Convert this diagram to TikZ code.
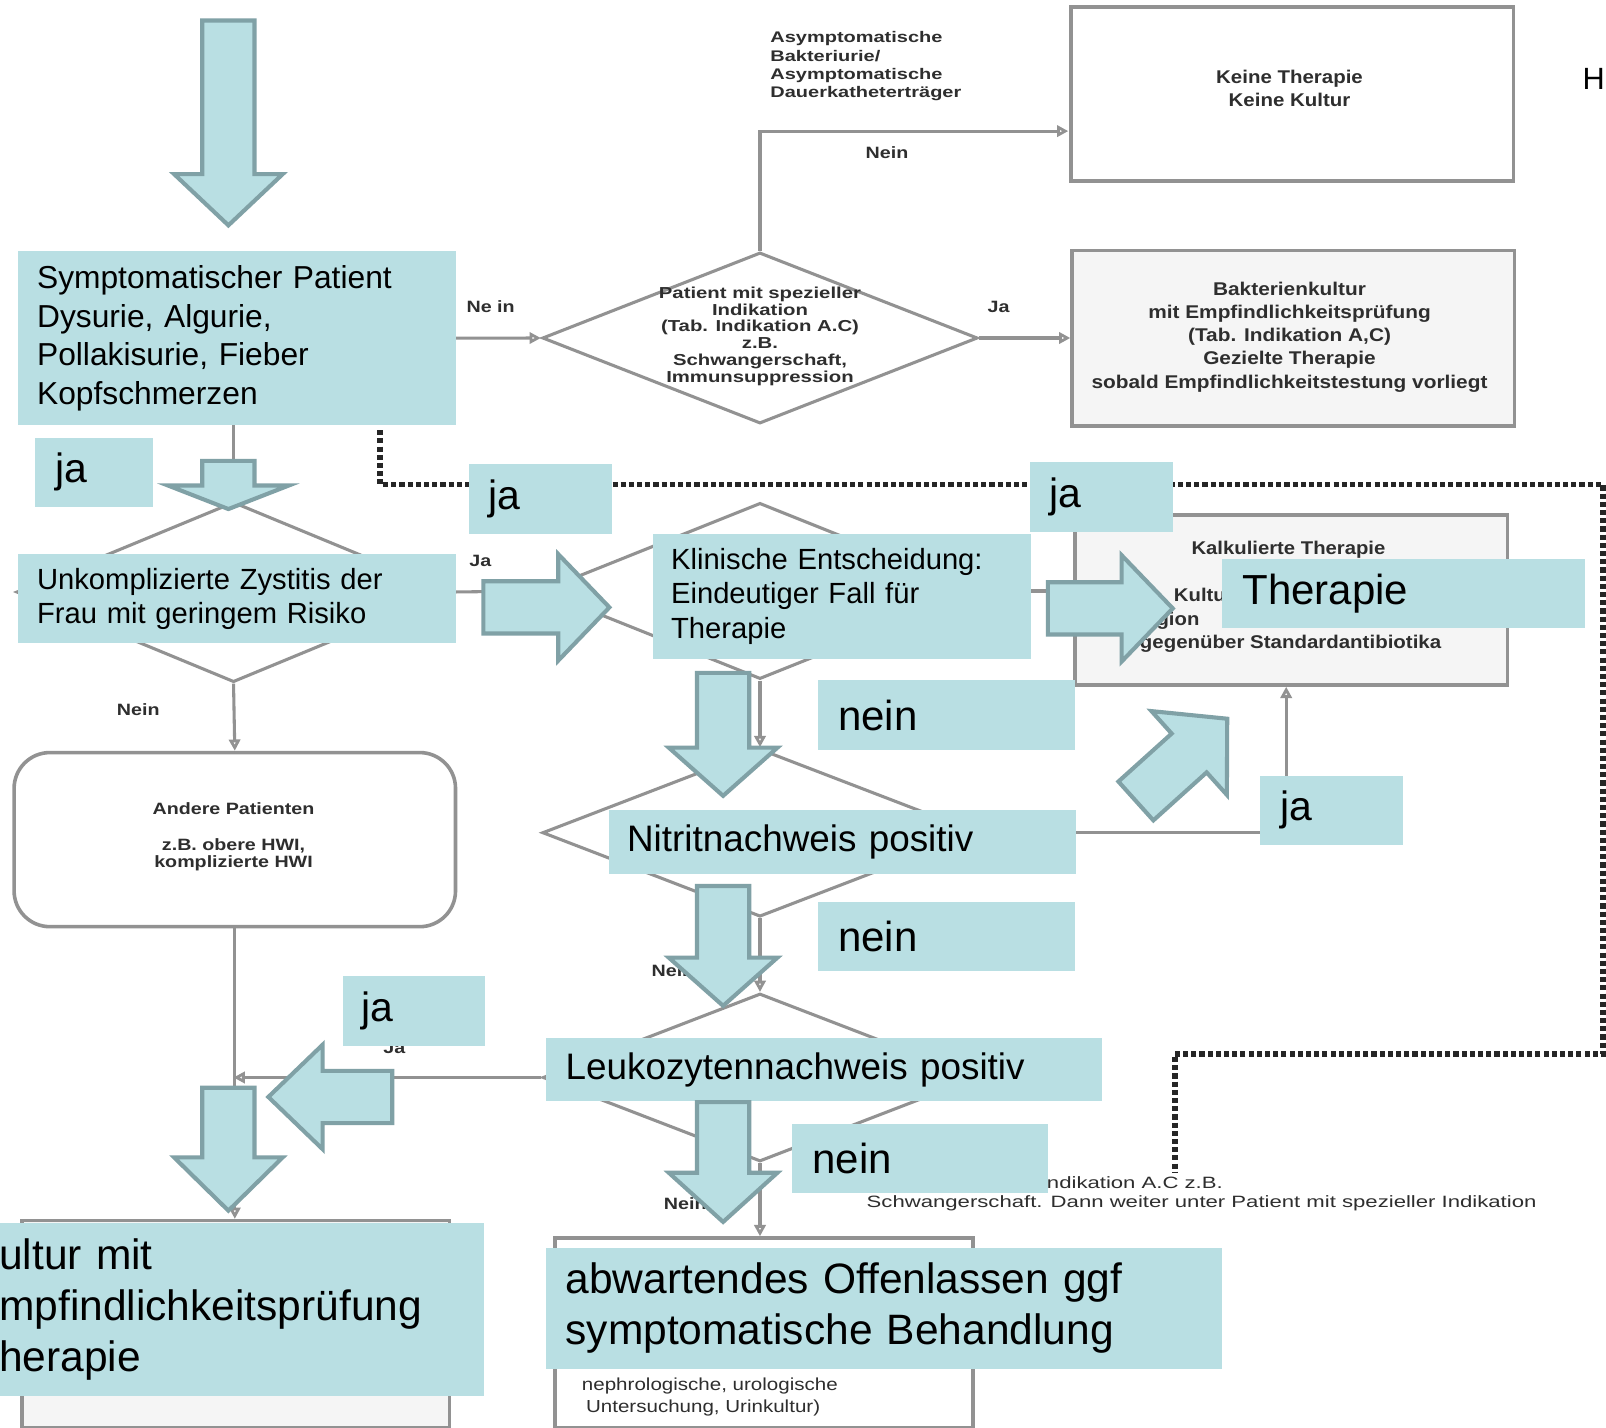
\documentclass[tikz,border=0pt]{standalone}
\usepackage{fontspec}
\setmainfont{Liberation Sans}
\usepackage{graphicx}
\usetikzlibrary{arrows.meta,shapes.geometric,calc}
\pgfdeclarelayer{fg}
\pgfsetlayers{main,fg}
\definecolor{blueF}{HTML}{B9DFE3}
\definecolor{arrS}{HTML}{80A1A6}
\definecolor{glc}{HTML}{929292}
\definecolor{gtc}{HTML}{2E2E2E}
\newcommand\grtext[5]{{\fontsize{#1}{#2}\selectfont\scalebox{#3}[1]{\begin{tabular}{@{}#4@{}}#5\end{tabular}}}}
\newcommand\downarr[5]{\draw[bigarrow] (#1-25.5,#2) -- (#1+25.5,#2) -- (#1+25.5,#3) -- (#1+#5,#3) -- (#1,#4) -- (#1-#5,#3) -- (#1-25.5,#3) -- cycle;}
\newcommand\harr[5]{\draw[bigarrow] (#1,#2-25.5) -- (#3,#2-25.5) -- (#3,#2-#5) -- (#4,#2) -- (#3,#2+#5) -- (#3,#2+25.5) -- (#1,#2+25.5) -- cycle;}
\begin{document}
\begin{tikzpicture}[x=1pt,y=-1pt,
  bluebox/.style={fill=blueF, draw=none, anchor=north west, inner ysep=0pt, align=left, text=black},
  bigarrow/.style={fill=blueF, draw=arrS, line width=4pt, line join=miter},
  gbox/.style={draw=glc, line width=3.5pt, fill=white, anchor=north west, inner sep=0pt},
  gdia/.style={draw=glc, line width=3pt, fill=white, diamond, inner sep=0pt},
  gtext/.style={text=gtc, font=\bfseries, inner sep=0pt},
  gnote/.style={text=gtc, inner sep=0pt},
  garrow/.style={draw=glc, line width=3pt, -{Triangle[open,length=11pt,width=11pt]}},
  dotline/.style={draw=black!85, line width=5.5pt, dash pattern=on 5pt off 3pt}
]
\useasboundingbox (0,0) rectangle (1568,1394);
\fill[white] (0,0) rectangle (1568,1394);

% ---------- grey boxes ----------
\node[gbox, minimum width=432pt, minimum height=170pt] (bKeine) at (1044,5) {};
\node[gbox, fill=gray!8, minimum width=432pt, minimum height=171pt] (bBakt) at (1045,243) {};
\node[gbox, fill=gray!8, minimum width=422pt, minimum height=166pt] (bKalk) at (1048,501) {};
\node[gbox, rounded corners=35pt, minimum width=431pt, minimum height=170pt] (bAndere) at (12,733) {};
\node[gbox, fill=gray!8, minimum width=417pt, minimum height=202pt] (bKult) at (20,1190) {};
\node[gbox, minimum width=408pt, minimum height=185pt] (bAbw) at (540,1207) {};

% ---------- grey diamonds ----------
\node[gdia, minimum width=425pt, minimum height=167pt] (dPat) at (742,330) {};
\node[gdia, minimum width=424pt, minimum height=176pt] (dUnk) at (228,578) {};
\node[gdia, minimum width=428pt, minimum height=172pt] (dKlin) at (742,577) {};
\node[gdia, minimum width=425pt, minimum height=164pt] (dNit) at (742,813) {};
\node[gdia, minimum width=424pt, minimum height=164pt] (dLeu) at (742,1052) {};

% ---------- grey texts ----------
\node[gtext, anchor=west] (tAsym) at (752,65) {\grtext{15}{18}{1.3}{l}{Asymptomatische\\Bakteriurie/\\Asymptomatische\\Dauerkatheterträger}};
\node[gtext] (tKeine) at (1259,88) {\grtext{18}{23}{1.11}{c}{Keine Therapie\\Keine Kultur}};
\node[gtext] (tPat) at (742,329) {\grtext{15.5}{16.4}{1.28}{c}{Patient mit spezieller\\Indikation\\(Tab. Indikation  A.C)\\z.B.\\Schwangerschaft,\\Immunsuppression}};
\node[gtext] (tBakt) at (1259,329) {\grtext{18}{22.75}{1.13}{c}{Bakterienkultur\\mit Empfindlichkeitsprüfung\\(Tab. Indikation A,C)\\Gezielte Therapie\\sobald Empfindlichkeitstestung vorliegt}};
\node[gtext] (tKalk1) at (1258,537) {\grtext{18}{22}{1.1}{c}{Kalkulierte Therapie}};
\node[gtext, anchor=west] (tKalk2) at (1146,583) {\grtext{18}{22}{1.1}{l}{Kultu}};
\node[gtext, anchor=west] (tKalk3) at (1118,606) {\grtext{18}{22}{1.1}{l}{egion}};
\node[gtext] (tKalk4) at (1260,629) {\grtext{18}{22}{1.11}{c}{gegenüber Standardantibiotika}};
\node[gtext] (tAnd1) at (228,792) {\grtext{16}{17}{1.2}{c}{Andere Patienten}};
\node[gtext] (tAnd2) at (228,835) {\grtext{16}{17}{1.2}{c}{z.B. obere HWI,\\komplizierte HWI}};
\node[gtext] (lNe) at (479,302) {\grtext{16}{17}{1.2}{c}{Ne in}};
\node[gtext] (lJa1) at (975,302) {\grtext{16}{17}{1.2}{c}{Ja}};
\node[gtext] (lNein1) at (866,151) {\grtext{16}{17}{1.2}{c}{Nein}};
\node[gtext] (lJa2) at (469,550) {\grtext{16}{17}{1.2}{c}{Ja}};
\node[gtext] (lNein2) at (135,695) {\grtext{16}{17}{1.2}{c}{Nein}};
\node[gtext, anchor=west] (lNein3) at (636,950) {\grtext{16}{17}{1.2}{l}{Nein}};
\node[gtext] (lJa3) at (385,1025) {\grtext{16}{17}{1.2}{c}{Ja}};
\node[gtext, anchor=west] (lNein4) at (648,1177) {\grtext{16}{17}{1.2}{l}{Nein}};
\node[gnote, anchor=west] (tNote1) at (1022,1157) {\grtext{16}{18}{1.35}{l}{ndikation A.C z.B.}};
\node[gnote, anchor=west] (tNote2) at (846,1175) {\grtext{16}{18}{1.35}{l}{Schwangerschaft. Dann weiter unter Patient mit  spezieller Indikation}};
\node[gnote, anchor=west] (tAbw1) at (568,1353) {\grtext{17}{22}{1.18}{l}{nephrologische, urologische}};
\node[gnote, anchor=west] (tAbw2) at (572,1375) {\grtext{17}{22}{1.18}{l}{Untersuchung, Urinkultur)}};
\node[anchor=west, inner sep=0pt, font=\fontsize{30}{34}\selectfont] (tH) at (1545,77) {H};

% ---------- dotted line ----------
\draw[dotline] (371,420) -- (371,473) -- (1565,473) -- (1565,1029) -- (1147,1029) -- (1147,1145);

% ---------- blue overlay boxes ----------
\begin{pgfonlayer}{fg}
\node[bluebox, text width=390pt, inner xsep=19pt, minimum height=170pt, font=\fontsize{31}{37.5}\selectfont] (sym) at (17,245) {Symptomatischer Patient\\Dysurie, Algurie,\\Pollakisurie, Fieber\\Kopfschmerzen};
\node[bluebox, text width=75pt, inner xsep=20pt, minimum height=68pt, font=\fontsize{40}{46}\selectfont] (ja1) at (34,427) {ja};
\node[bluebox, text width=390pt, inner xsep=19pt, minimum height=87pt, font=\fontsize{28.5}{34}\selectfont] (unk) at (17,541) {Unkomplizierte Zystitis der\\Frau mit geringem Risiko};
\node[bluebox, text width=101pt, inner xsep=19pt, minimum height=68pt, font=\fontsize{40}{46}\selectfont] (ja2) at (458,453) {ja};
\node[bluebox, text width=102pt, inner xsep=19pt, minimum height=68pt, font=\fontsize{40}{46}\selectfont] (ja3) at (1005,451) {ja};
\node[bluebox, text width=333pt, inner xsep=18pt, minimum height=122pt, font=\fontsize{28.5}{34}\selectfont] (klin) at (637,521) {Klinische Entscheidung:\\Eindeutiger Fall für\\Therapie};
\node[bluebox, text width=314pt, inner xsep=20pt, minimum height=67pt, font=\fontsize{41}{48}\selectfont] (ther) at (1193,546) {Therapie};
\node[bluebox, text width=211pt, inner xsep=20pt, minimum height=68pt, font=\fontsize{41}{48}\selectfont] (nein1) at (798,664) {nein};
\node[bluebox, text width=420pt, inner xsep=18pt, minimum height=62pt, font=\fontsize{36}{42}\selectfont] (nit) at (594,791) {Nitritnachweis positiv};
\node[bluebox, text width=100pt, inner xsep=20pt, minimum height=68pt, font=\fontsize{40}{46}\selectfont] (ja4) at (1230,757) {ja};
\node[bluebox, text width=211pt, inner xsep=20pt, minimum height=68pt, font=\fontsize{41}{48}\selectfont] (nein2) at (798,880) {nein};
\node[bluebox, text width=102pt, inner xsep=18pt, minimum height=68pt, font=\fontsize{40}{46}\selectfont] (ja5) at (335,953) {ja};
\node[bluebox, text width=505pt, inner xsep=19pt, minimum height=62pt, font=\fontsize{36}{42}\selectfont] (leu) at (533,1013) {Leukozytennachweis positiv};
\node[bluebox, text width=210pt, inner xsep=20pt, minimum height=68pt, font=\fontsize{41}{48}\selectfont] (nein3) at (773,1097) {nein};
\node[bluebox, text width=473pt, inner xsep=0pt, minimum height=169pt, font=\fontsize{41.5}{50}\selectfont] (kult) at (-1,1194) {ultur mit\\mpfindlichkeitsprüfung\\herapie};
\node[bluebox, text width=622pt, inner xsep=19pt, minimum height=118pt, font=\fontsize{41.5}{50}\selectfont] (abw) at (533,1218) {abwartendes Offenlassen ggf\\symptomatische Behandlung};

% ---------- big arrows ----------
\downarr{223}{20}{170}{220}{53}
\downarr{223}{450}{474}{497}{59}
\downarr{706}{657}{730}{777}{53}
\downarr{706}{865}{935}{982}{53}
\downarr{706}{1076}{1145}{1193}{53}
\downarr{223}{1062}{1130}{1182}{53}
\harr{472}{593}{545}{595}{52}
\harr{1023}{594}{1095}{1145}{52}
\harr{383}{1071}{315}{262}{51}
\draw[bigarrow, shift={(1109,782)}, rotate=42] (0,-25.5) -- (70,-25.5) -- (70,-55) -- (120,0) -- (70,55) -- (70,25.5) -- (0,25.5) -- cycle;
\end{pgfonlayer}

% ---------- grey connectors ----------
\coordinate (kin) at (1043,128);
\coordinate (jn) at (228,1052);
\draw[garrow] (sym.east) -- (dPat.west);
\draw[garrow] (dPat.north) |- (kin);
\draw[garrow] (dPat.east) -- (dPat.east -| bBakt.west);
\draw[garrow] (dUnk.north |- sym.south) -- (dUnk.north);
\draw[garrow] (dUnk.east) -- (dKlin.west);
\draw[garrow] (dUnk.south) -- (bAndere.north);
\draw[garrow] (dKlin.east) -- (dKlin.east -| bKalk.west);
\draw[garrow] (dKlin.south) -- (dNit.north);
\draw[garrow] (dNit.east) -| ([xshift=-5pt]bKalk.south);
\draw[garrow] (dNit.south) -- (dLeu.north);
\draw[garrow] (dLeu.west) -- (jn);
\draw[garrow] (bAndere.south) -- (bAndere.south |- bKult.north);
\draw[garrow] (dLeu.south) -- (dLeu.south |- bAbw.north);
\end{tikzpicture}
\end{document}
